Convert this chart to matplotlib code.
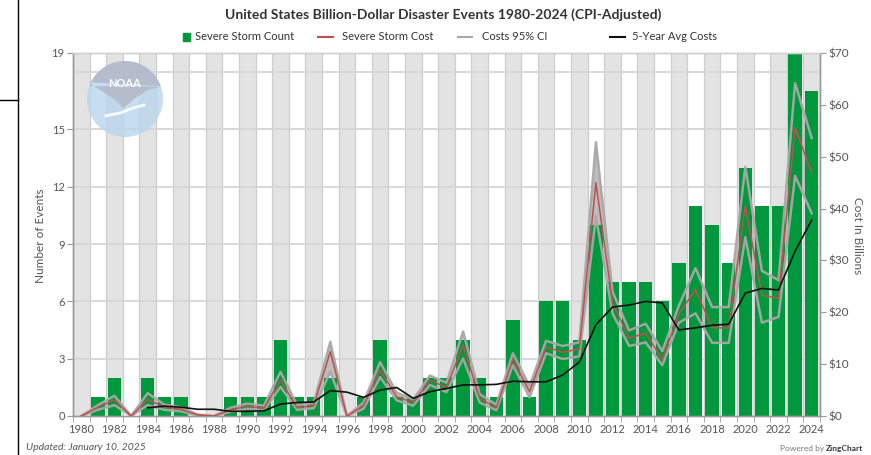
import numpy as np
import matplotlib
matplotlib.use("Agg")
import matplotlib.pyplot as plt
from matplotlib.lines import Line2D
from matplotlib.patches import Rectangle, Circle, Polygon

plt.rcParams['font.family'] = ['Lato', 'DejaVu Sans']

# ---------------- data ----------------
years = list(range(1980, 2025))
storm_count = [0, 1, 2, 0, 2, 1, 1, 0, 0, 1,
               1, 1, 4, 1, 1, 2, 0, 1, 4, 1,
               1, 2, 2, 4, 2, 1, 5, 1, 6, 6,
               4, 10, 7, 7, 7, 6, 8, 11, 10, 8,
               13, 11, 11, 19, 17]
storm_cost = [0.0, 1.7, 3.1, 0.0, 3.2, 1.7, 1.3, 0.2, 0.0, 1.2,
              1.9, 1.5, 6.9, 1.6, 2.0, 12.4, 0.0, 2.0, 8.9, 3.7,
              2.6, 6.9, 5.5, 13.7, 3.4, 1.6, 10.9, 4.7, 13.3, 12.3,
              12.9, 45.0, 21.8, 15.0, 16.0, 10.9, 19.7, 24.4, 17.0, 17.0,
              40.5, 23.3, 22.7, 55.6, 46.9]
ci_upper = [0.0, 2.1, 3.9, 0.0, 4.4, 2.2, 1.7, 0.3, 0.0, 1.6,
            2.4, 2.0, 8.5, 2.1, 2.5, 14.3, 0.0, 2.6, 10.4, 4.5,
            3.2, 7.8, 6.4, 16.3, 4.2, 2.2, 12.1, 5.8, 14.5, 13.5,
            14.2, 52.8, 24.0, 16.5, 17.8, 12.5, 21.3, 28.5, 21.0, 21.0,
            48.0, 28.0, 26.2, 64.2, 53.6]
ci_lower = [0.0, 1.2, 2.1, 0.0, 2.1, 1.2, 0.9, 0.1, 0.0, 0.8,
            1.4, 1.1, 5.6, 1.2, 1.5, 8.5, 0.0, 1.4, 7.5, 3.0,
            2.0, 6.0, 4.6, 11.1, 2.6, 1.1, 9.8, 3.6, 12.1, 11.0,
            11.5, 38.5, 19.8, 13.5, 14.2, 9.8, 18.0, 19.8, 14.1, 14.1,
            34.5, 18.0, 19.1, 46.3, 39.1]
avg5_cost = [None, None, None, None, 1.6, 1.9, 1.7, 1.3, 1.3, 0.9,
             0.9, 1.0, 2.3, 2.6, 2.7, 4.9, 4.6, 3.6, 5.0, 5.5,
             3.4, 4.7, 5.3, 6.0, 6.0, 6.1, 6.7, 6.6, 6.6, 7.9,
             10.4, 17.6, 21.0, 21.4, 22.1, 21.8, 16.6, 17.0, 17.5, 17.7,
             23.7, 24.6, 24.3, 31.8, 37.8]
count_ticks = [0, 3, 6, 9, 12, 15, 19]
cost_ticks = [0, 10, 20, 30, 40, 50, 60, 70]

# ---------------- figure ----------------
W, H = 871, 455
fig = plt.figure(figsize=(W / 100, H / 100), dpi=100)
fig.patch.set_facecolor('white')

def fx(px):
    return px / W

def fy(py):
    return 1 - py / H

L, R, T, B = 73, 820, 53, 416
ax = fig.add_axes([fx(L), fy(B), (R - L) / W, (B - T) / H])
x = np.arange(len(years))
ax.set_xlim(-0.5, len(years) - 0.5)
ax.set_ylim(0, 19)
ax2 = ax.twinx()
ax2.set_ylim(0, 70)
ax2.set_xlim(-0.5, len(years) - 0.5)

# background alternating columns
for i in range(len(years)):
    if i % 2 == 0:
        ax.axvspan(i - 0.5, i + 0.5, color='#e3e3e3', lw=0, zorder=0)
for b in np.arange(-0.5, len(years), 1.0):
    ax.axvline(b, color='#cdcdcd', lw=0.9, zorder=0.3)
for v in [3, 6, 9, 12, 15, 18]:
    ax.axhline(v, color='#d6d6d6', lw=1.3, zorder=0.5)

# CI area (behind bars)
ax.fill_between(x, ci_lower, ci_upper, transform=ax2.transData,
                color='#bdbdbd', lw=0, zorder=1)
ax.set_ylim(0, 19)

# bars
ax.bar(x, storm_count, width=0.8, color='#00983d', zorder=2)

# lines
ax2.plot(x, ci_upper, color='#a8a8a8', lw=1.8, alpha=0.95, zorder=3)
ax2.plot(x, ci_lower, color='#a8a8a8', lw=1.8, alpha=0.95, zorder=3)
ax2.plot(x, storm_cost, color='#c0504d', lw=1.1, zorder=4)
avg = np.array([np.nan if v is None else v for v in avg5_cost], dtype=float)
ax2.plot(x, avg, color='#111111', lw=1.2, zorder=5)

# axes styling
tick_col = '#555555'
spine_col = '#9a9a9a'
for a in (ax, ax2):
    for s in a.spines.values():
        s.set_color(spine_col)
        s.set_linewidth(1)
ax.spines['top'].set_color('#d0d0d0')
ax2.spines['top'].set_color('#d0d0d0')

ax.set_yticks(count_ticks)
ax.set_yticklabels([str(t) for t in count_ticks])
ax.tick_params(axis='y', length=4, color=spine_col, labelcolor=tick_col,
               labelsize=8, pad=2)
ax2.set_yticks(cost_ticks)
ax2.set_yticklabels(['$' + str(t) for t in cost_ticks])
ax2.tick_params(axis='y', length=4, color=spine_col, labelcolor=tick_col,
                labelsize=8.5, pad=2)

ax.set_xticks(x[::2])
ax.set_xticklabels([str(y) for y in years[::2]])
ax.set_xticks(np.arange(-0.5, len(years), 1.0), minor=True)
ax.tick_params(axis='x', which='major', length=0, labelcolor=tick_col,
               labelsize=8, pad=6)
ax.tick_params(axis='x', which='minor', length=4, color=spine_col)
ax2.tick_params(axis='x', length=0)

# axis titles
fig.text(fx(40), fy(236), 'Number of Events', rotation=90, ha='center',
         va='center', fontsize=8.5, color=tick_col)
fig.text(fx(857), fy(236), 'Cost In Billions', rotation=270, ha='center',
         va='center', fontsize=8.5, color=tick_col)

# title
fig.text(fx(443), fy(15), 'United States Billion-Dollar Disaster Events 1980-2024 (CPI-Adjusted)',
         ha='center', va='center', fontsize=10, fontweight='bold', color='#333333')

# legend
ly = fy(37)
fig.patches.append(Rectangle((fx(183), ly - 3.5 / H), 7 / W, 7 / H,
                             transform=fig.transFigure, color='#00983d'))
fig.text(fx(195), ly, 'Severe Storm Count', ha='left', va='center',
         fontsize=8, color='#333333')
for (x0, x1, col, lab, tx) in [(318, 333, '#c0504d', 'Severe Storm Cost', 342),
                               (458, 472, '#a8a8a8', 'Costs 95% CI', 482),
                               (610, 625, '#111111', '5-Year Avg Costs', 632)]:
    fig.add_artist(Line2D([fx(x0), fx(x1)], [ly, ly], color=col, lw=1.5,
                          transform=fig.transFigure))
    fig.text(fx(tx), ly, lab, ha='left', va='center', fontsize=8, color='#333333')

# footer
fig.text(fx(26), fy(447), 'Updated: January 10, 2025', ha='left', va='center',
         fontsize=7.5, style='italic', color='#555555')
fig.text(fx(826), fy(448), 'Powered by ', ha='right', va='center',
         fontsize=6, color='#777777')
fig.text(fx(826), fy(448), 'ZingChart', ha='left', va='center',
         fontsize=6, fontweight='bold', color='#333344')

# page border lines at left
fig.add_artist(Line2D([fx(18), fx(18)], [0, 1], color='black', lw=1,
                      transform=fig.transFigure))
fig.add_artist(Line2D([0, fx(18)], [fy(100), fy(100)], color='black', lw=1,
                      transform=fig.transFigure))

# NOAA logo (approximation)
lg = fig.add_axes([fx(87), fy(137), 76 / W, 76 / H])
lg.set_xlim(0, 1)
lg.set_ylim(0, 1)
lg.set_aspect('equal')
lg.axis('off')
lg.add_patch(Circle((0.5, 0.5), 0.5, color='#b9d6ee', alpha=0.8, lw=0))
ang = np.linspace(np.radians(20), np.radians(160), 40)
arc = np.column_stack([0.5 + 0.5 * np.cos(ang), 0.5 + 0.5 * np.sin(ang)])
wing = np.array([[0.02, 0.72], [0.2, 0.6], [0.38, 0.48], [0.48, 0.38],
                 [0.62, 0.5], [0.8, 0.62], [0.97, 0.66]])
poly = np.vstack([arc[::-1], wing])
lg.add_patch(Polygon(poly, closed=True, color='#b4b9c8', alpha=0.9, lw=0))
lg.plot([0.25, 0.45, 0.6, 0.75], [0.28, 0.32, 0.38, 0.42], color='white',
        lw=2, alpha=0.9)
lg.text(0.5, 0.7, 'NOAA', ha='center', va='center', color='white',
        fontsize=8, fontweight='bold')

fig.savefig('out.png', dpi=100)
